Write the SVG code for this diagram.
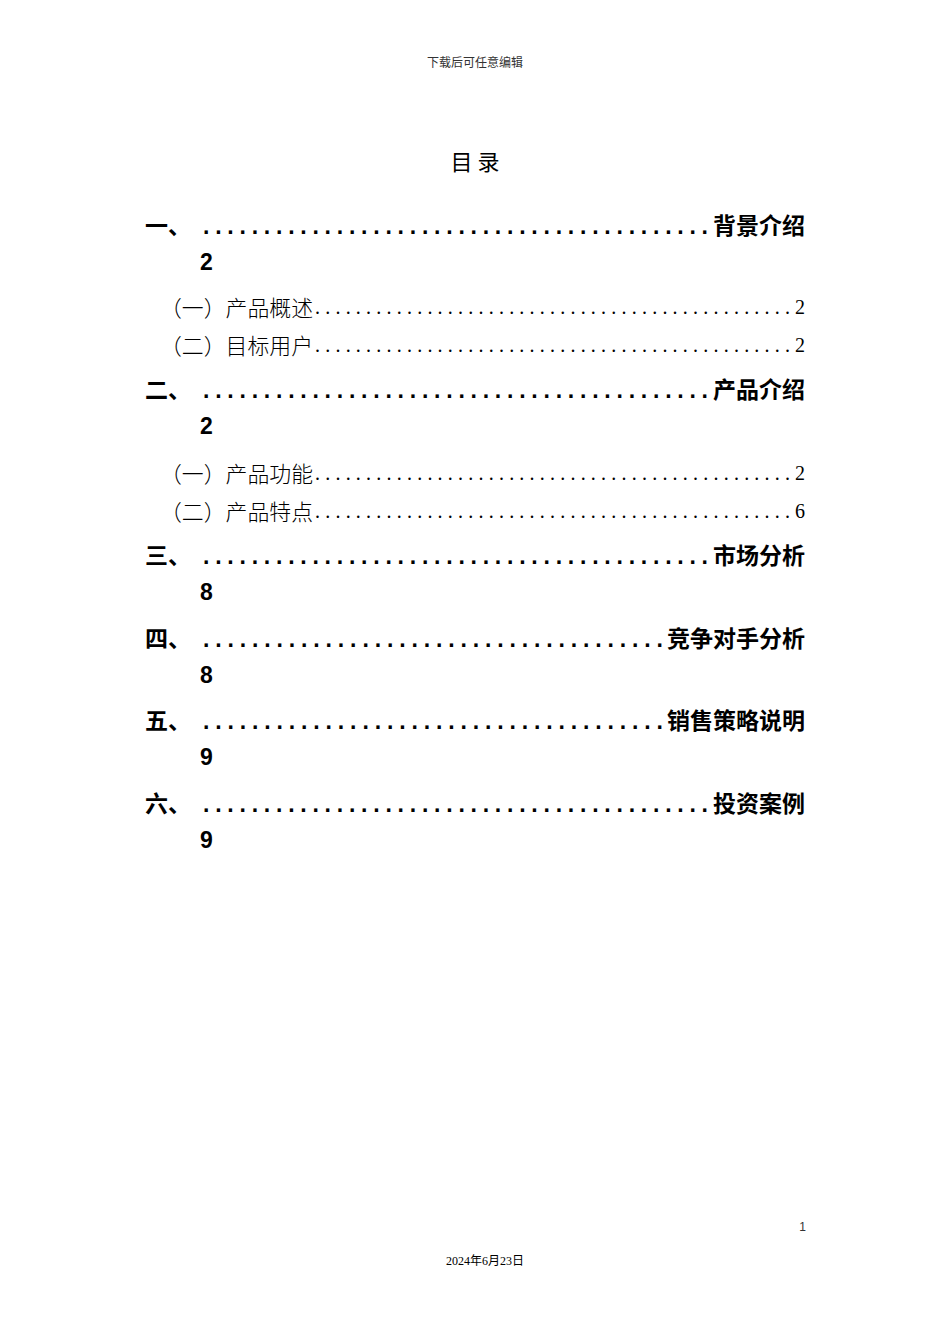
<svg xmlns="http://www.w3.org/2000/svg" width="950" height="1344" viewBox="0 0 950 1344">
<style>
text{font-family:"Liberation Serif","Noto Sans CJK SC",serif;fill:#000}
.h{font-size:12px;fill:#333}
.m{font-size:23px;font-weight:600;font-family:"Liberation Sans","Noto Sans CJK SC",sans-serif}
.s{font-size:20px}
.c{font-size:22px;font-family:"Noto Sans CJK SC",sans-serif;font-weight:300}
</style>
<rect width="950" height="1344" fill="#fff"/>
<text class="h" x="475" y="67" text-anchor="middle">下载后可任意编辑</text>
<text x="475" y="170" text-anchor="middle" style="font-size:22px;font-family:'Noto Sans CJK SC',sans-serif">目 录</text>
<g id="toc1"><text class="m" x="145" y="234">一、</text><text class="m" x="203" y="234" textLength="505" lengthAdjust="spacing">..........................................</text><text class="m" x="805" y="234" text-anchor="end">背景介绍</text><text class="m" x="200" y="270">2</text></g>
<g id="toc1a"><text class="c" x="160" y="316" textLength="153" lengthAdjust="spacingAndGlyphs">（一）产品概述</text><text class="s" x="315" y="314" textLength="475" lengthAdjust="spacing">...............................................</text><text class="s" x="805" y="314" text-anchor="end">2</text></g>
<g id="toc1b"><text class="c" x="160" y="354" textLength="153" lengthAdjust="spacingAndGlyphs">（二）目标用户</text><text class="s" x="315" y="352" textLength="475" lengthAdjust="spacing">...............................................</text><text class="s" x="805" y="352" text-anchor="end">2</text></g>
<g id="toc2"><text class="m" x="145" y="398">二、</text><text class="m" x="203" y="398" textLength="505" lengthAdjust="spacing">..........................................</text><text class="m" x="805" y="398" text-anchor="end">产品介绍</text><text class="m" x="200" y="434">2</text></g>
<g id="toc2a"><text class="c" x="160" y="482" textLength="153" lengthAdjust="spacingAndGlyphs">（一）产品功能</text><text class="s" x="315" y="480" textLength="475" lengthAdjust="spacing">...............................................</text><text class="s" x="805" y="480" text-anchor="end">2</text></g>
<g id="toc2b"><text class="c" x="160" y="520" textLength="153" lengthAdjust="spacingAndGlyphs">（二）产品特点</text><text class="s" x="315" y="518" textLength="475" lengthAdjust="spacing">...............................................</text><text class="s" x="805" y="518" text-anchor="end">6</text></g>
<g id="toc3"><text class="m" x="145" y="564">三、</text><text class="m" x="203" y="564" textLength="505" lengthAdjust="spacing">..........................................</text><text class="m" x="805" y="564" text-anchor="end">市场分析</text><text class="m" x="200" y="600">8</text></g>
<g id="toc4"><text class="m" x="145" y="647">四、</text><text class="m" x="203" y="647" textLength="460" lengthAdjust="spacing">......................................</text><text class="m" x="805" y="647" text-anchor="end">竞争对手分析</text><text class="m" x="200" y="683">8</text></g>
<g id="toc5"><text class="m" x="145" y="729">五、</text><text class="m" x="203" y="729" textLength="460" lengthAdjust="spacing">......................................</text><text class="m" x="805" y="729" text-anchor="end">销售策略说明</text><text class="m" x="200" y="765">9</text></g>
<g id="toc6"><text class="m" x="145" y="812">六、</text><text class="m" x="203" y="812" textLength="505" lengthAdjust="spacing">..........................................</text><text class="m" x="805" y="812" text-anchor="end">投资案例</text><text class="m" x="200" y="848">9</text></g>
<text class="h" x="806" y="1231" text-anchor="end" style="font-family:'Liberation Sans',sans-serif">1</text>
<text class="h" x="485" y="1265" text-anchor="middle" style="fill:#000">2024年6月23日</text>
</svg>
